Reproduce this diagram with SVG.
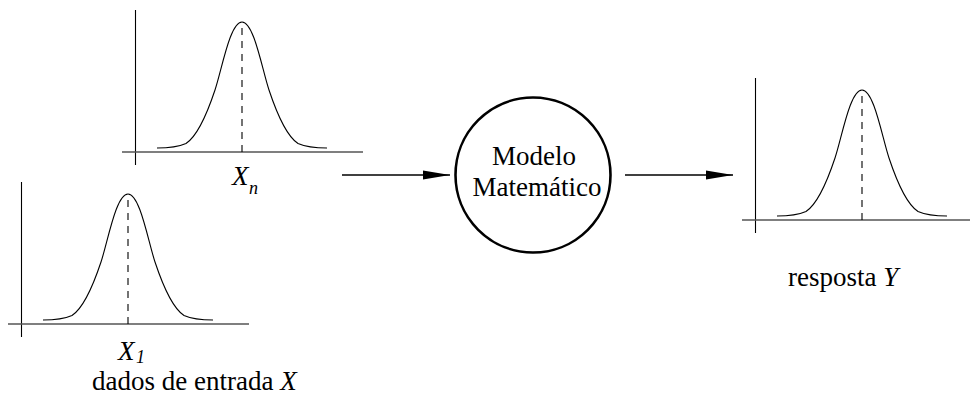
<svg xmlns="http://www.w3.org/2000/svg" xmlns:xlink="http://www.w3.org/1999/xlink" width="970" height="408" viewBox="0 0 970 408">
<style>
.ax{stroke:#000;stroke-width:1.1;fill:none}
.hax{stroke:#555;stroke-width:1.4;fill:none}
.crv{stroke:#000;stroke-width:1.1;fill:none}
.dash{stroke:#000;stroke-width:1.1;stroke-dasharray:7 6;fill:none}
.conn{stroke:#000;stroke-width:1.6;fill:none}
</style>
<defs>
<g id="chart">
<line class="ax" x1="-106.5" y1="-142" x2="-106.5" y2="13"/>
<line class="hax" x1="-120" y1="0" x2="121" y2="0"/>
<path class="crv" d="M -85,-4 C -75,-4 -64,-5 -56,-8.5 C -46,-15 -36,-35 -27,-62 C -20,-83 -12,-130 0,-130 C 12,-130 20,-83 27,-62 C 36,-35 46,-15 56,-8.5 C 64,-5 75,-4 85,-4"/>
<line class="dash" x1="0" y1="0" x2="0" y2="-130"/>
</g>
<marker id="ah" markerWidth="27" markerHeight="10" refX="27" refY="5" orient="auto" markerUnits="userSpaceOnUse">
<polygon points="0,0.4 27,5 0,9.6" fill="#000"/>
</marker>
</defs>
<g font-family="Liberation Serif, serif" font-size="27" fill="#000">
<g id="chart-xn">
<use xlink:href="#chart" transform="translate(242,152)"/>
<text x="232" y="185" font-style="italic">X</text>
<text x="249" y="194" font-size="18" font-style="italic">n</text>
</g>
<g id="chart-x1">
<use xlink:href="#chart" transform="translate(128,324)"/>
<text x="118" y="360" font-style="italic">X</text>
<text x="136" y="363" font-size="18" font-style="italic">1</text>
<text x="92" y="390">dados de entrada <tspan font-style="italic">X</tspan></text>
</g>
<g id="model">
<circle cx="533" cy="175" r="77.5" fill="none" stroke="#000" stroke-width="2.6"/>
<text x="534" y="165" text-anchor="middle">Modelo</text>
<text x="537" y="196" text-anchor="middle">Matemático</text>
</g>
<g id="chart-y">
<use xlink:href="#chart" transform="translate(862,220)"/>
<text x="788" y="286">resposta <tspan font-style="italic">Y</tspan></text>
</g>
</g>
<g id="connectors">
<line class="conn" x1="342" y1="175" x2="450" y2="175" marker-end="url(#ah)"/>
<line class="conn" x1="625" y1="175" x2="733" y2="175" marker-end="url(#ah)"/>
</g>
</svg>
